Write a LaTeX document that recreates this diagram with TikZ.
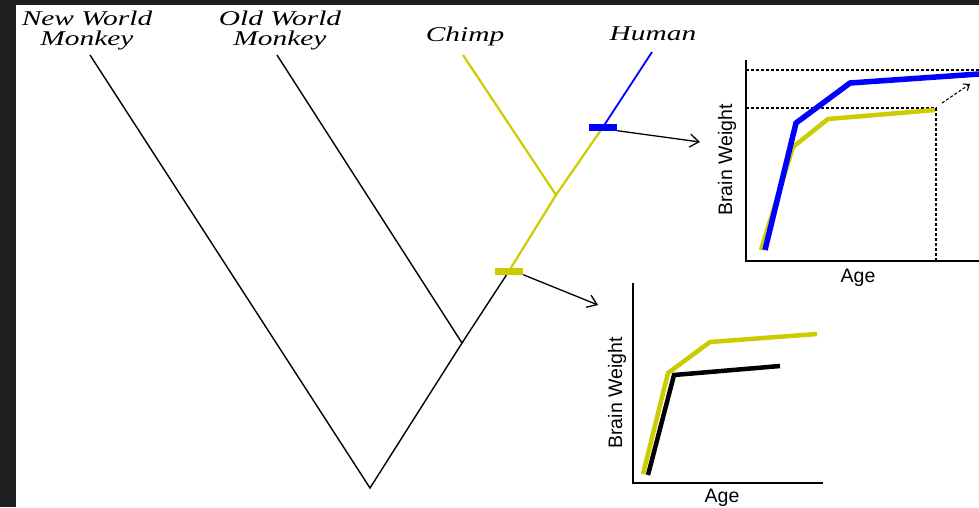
\documentclass[tikz,border=0pt]{standalone}
\usepackage{fontspec}
\setmainfont{Liberation Serif}
\setsansfont{Liberation Sans}
\usepackage{graphicx}
\usepackage{tikz}
\usetikzlibrary{arrows.meta}
\definecolor{yel}{RGB}{204,204,0}
\definecolor{frame}{RGB}{30,30,30}
\newcommand{\wide}[1]{\scalebox{1.4}[1]{#1}}
\tikzset{
  branch/.style={line width=1.4pt},
  bar/.style={minimum width=28pt, minimum height=7pt, inner sep=0pt},
  pointer/.style={line width=1.3pt, -{Straight Barb[length=9pt,width=13pt]}},
  axis/.style={line width=1.6pt},
  guide/.style={line width=1.1pt, dash pattern=on 3pt off 2pt},
  curve/.style={line width=4.5pt},
  axlab/.style={font=\sffamily\fontsize{19.5}{19.5}\selectfont, inner sep=0pt},
  taxon/.style={font=\fontsize{21}{20}\selectfont\itshape, align=center, inner sep=0pt, anchor=north}
}

\begin{document}
\begin{tikzpicture}[x=1pt,y=-1pt]
\useasboundingbox (0,0) rectangle (979,507);
\fill[frame] (0,0) rectangle (979,507);
\fill[white] (16,5) rectangle (979,507);
%% tree
\coordinate (root) at (370,488);
\coordinate (owj) at (462,343);
\coordinate (chj) at (556,195);
\coordinate (nwm) at (90,55);
\coordinate (owm) at (277,55);
\coordinate (chimp) at (463,55);
\coordinate (human) at (652,52);
\coordinate (ymark) at (509,271);
\coordinate (bmark) at (603,127);
\draw[branch] (nwm) -- (root) -- (owj) -- (ymark);
\draw[branch] (owm) -- (owj);
\draw[branch,yel,line width=2.2pt] (ymark) -- (chj) -- (bmark);
\draw[branch,yel,line width=2.2pt] (chimp) -- (chj);
\draw[branch,blue,line width=1.8pt] (bmark) -- (human);
\node[bar,fill=yel] (ybar) at (ymark) {};
\node[bar,fill=blue] (bbar) at (bmark) {};
%% tip labels
\node[taxon] (nwmlab) at (87,11) {\wide{New World}\\\wide{Monkey}};
\node[taxon] (owmlab) at (280,11) {\wide{Old World}\\\wide{Monkey}};
\node[taxon] (chimplab) at (465,27) {\wide{Chimp}};
\node[taxon] (humanlab) at (653,27) {\wide{Human}};
%% pointers to the plots
\coordinate (btip) at (700,142);
\coordinate (ytip) at (598,305);
\draw[pointer] (bbar.south east) -- (btip);
\draw[pointer] (ybar.south east) -- (ytip);
%% upper plot: chimp vs human
\begin{scope}[shift={(746,261)}]
\draw[axis] (0,-201) -- (0,0) -- (233,0);
\draw[guide] (0,-191) -- (233,-191);
\draw[guide] (0,-153) -- (190,-153) -- (190,0);
\draw[guide,-{Straight Barb[length=5pt,width=8pt]}] (196,-158) -- (224,-177);
\draw[curve,yel] (15,-11) -- (47,-114) -- (82,-142) -- (189,-151);
\draw[curve,blue,line width=5.5pt] (19,-11) -- (50,-138) -- (104,-178) -- (233,-187);
\node[axlab,rotate=90] (bwup) at (-19,-101) {Brain Weight};
\node[axlab] (ageup) at (112,17) {Age};
\end{scope}
%% lower plot: ancestor vs chimp-human
\begin{scope}[shift={(633,483)}]
\draw[axis] (0,-200) -- (0,0) -- (190,0);
\draw[curve,yel] (10,-9) -- (35,-110) -- (77,-141) -- (184,-149);
\draw[curve,black] (15,-8) -- (41,-108) -- (147,-117);
\node[axlab,rotate=90] (bwlow) at (-16,-90) {Brain Weight};
\node[axlab] (agelow) at (89,15) {Age};
\end{scope}
\end{tikzpicture}
\end{document}
